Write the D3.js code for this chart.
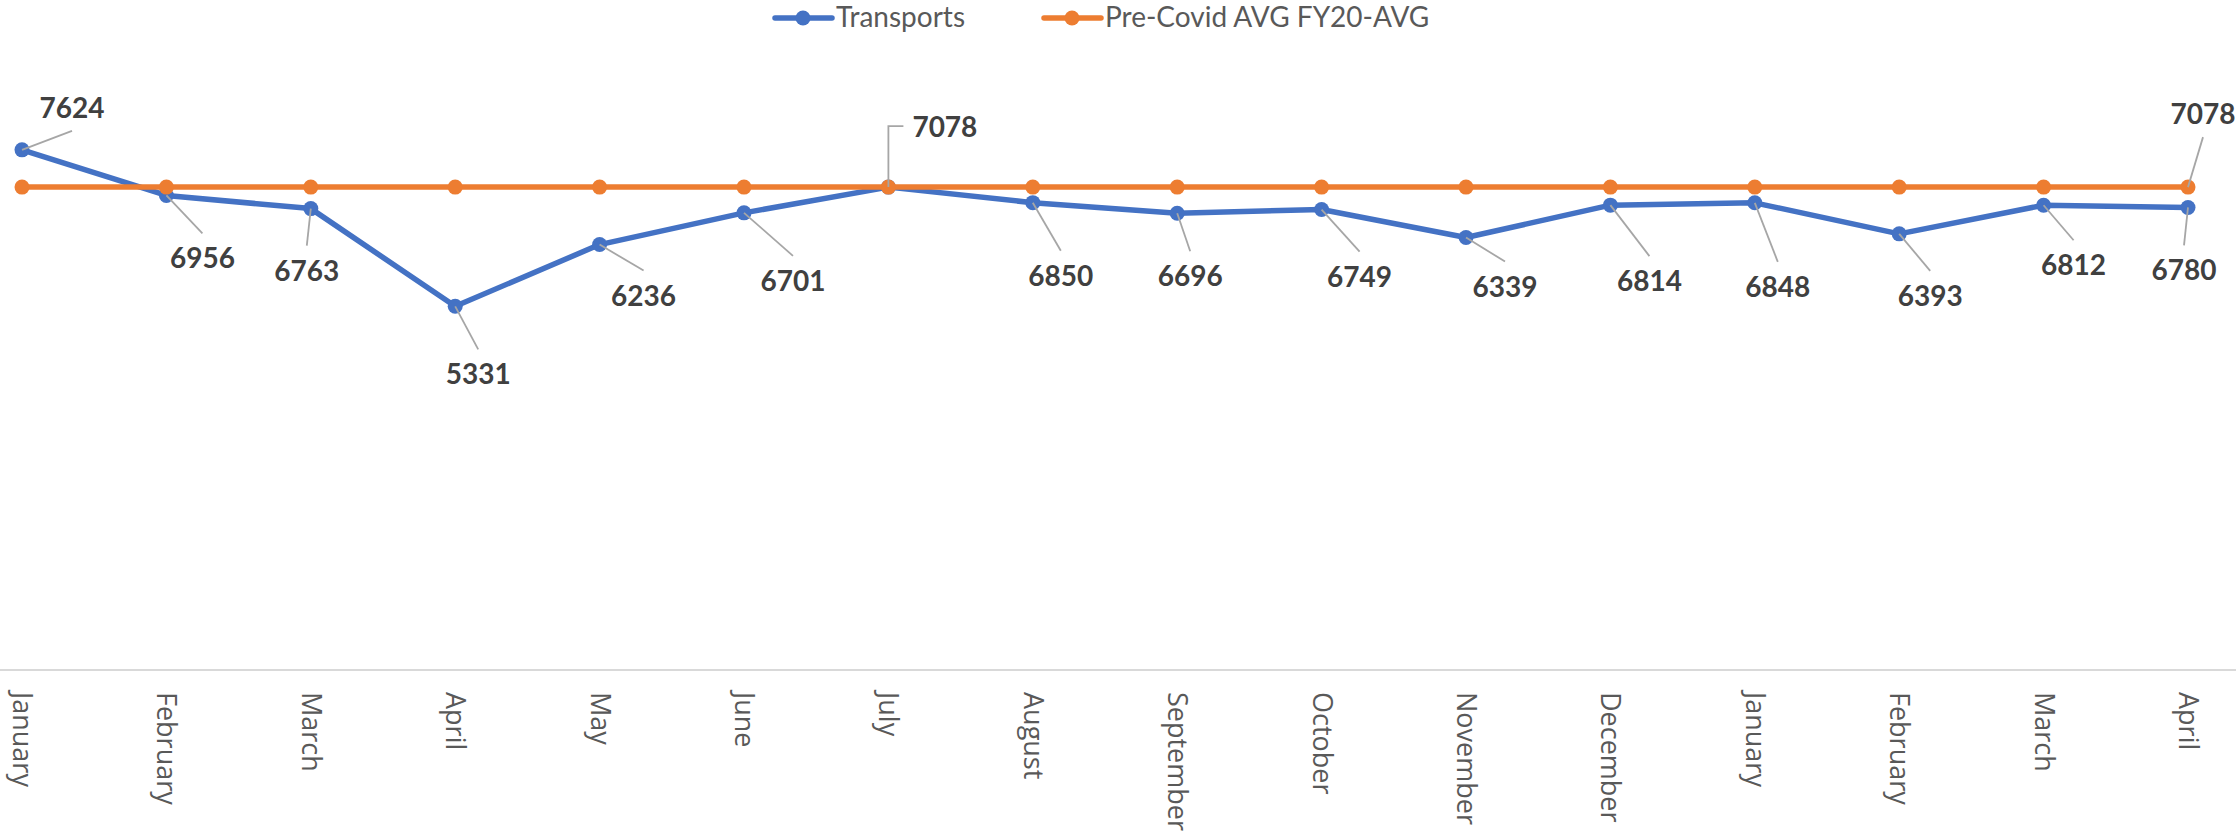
<!DOCTYPE html>
<html>
<head>
<meta charset="utf-8">
<script src="https://cdn.jsdelivr.net/npm/d3@7"></script>
<style>
  body { margin: 0; background: #fff; }
  svg { display: block; }
</style>
</head>
<body>
<script>
"use strict";

// chart data
var months = ["January", "February", "March", "April", "May", "June", "July", "August",
              "September", "October", "November", "December", "January", "February", "March", "April"];
var transports = [7624, 6956, 6763, 5331, 6236, 6701, 7078, 6850, 6696, 6749, 6339, 6814, 6848, 6393, 6812, 6780];
var preCovidAvg = [7078, 7078, 7078, 7078, 7078, 7078, 7078, 7078, 7078, 7078, 7078, 7078, 7078, 7078, 7078, 7078];
var seriesNames = ["Transports", "Pre-Covid AVG FY20-AVG"];

// where Excel left each data label, relative to its point (label centre x, baseline y)
var transportLabelPos = [
  [50, -32], [36, 73], [-4, 72], [23, 78], [44, 61], [49, 78], [24, -50, "elbow"], [28, 83],
  [13, 73], [38, 77], [39, 59], [39, 86], [23, 94], [31, 72], [30, 70], [-4, 73]
];
var avgLabelPos = [[15, -63]]; // only the last point of the average is labelled

var W = 2236, H = 836;
var blue = "#4472C4", orange = "#ED7D31";

var svg = d3.select("body").append("svg")
    .attr("width", W)
    .attr("height", H);

var x = d3.scalePoint()
    .domain(d3.range(months.length))
    .range([22, 2188]);

var y = d3.scaleLinear()
    .domain([0, 9000])
    .range([670, 56]);

// category axis
var axisY = y(0);
var xAxis = d3.axisBottom(x)
    .tickSize(0)
    .tickFormat(function(i) { return months[i]; });

var gx = svg.append("g")
    .attr("transform", "translate(0," + axisY + ")")
    .call(xAxis);
gx.select(".domain").remove();
gx.selectAll(".tick text")
    .attr("transform", "translate(0,22) rotate(90)")
    .attr("x", 0)
    .attr("y", 0)
    .attr("dy", "0.35em")
    .style("text-anchor", "start")
    .style("font-family", "'Open Sans', sans-serif")
    .style("font-size", "27px")
    .style("fill", "#595959");

svg.append("line")
    .attr("x1", 0).attr("x2", W)
    .attr("y1", axisY).attr("y2", axisY)
    .attr("stroke", "#d9d9d9")
    .attr("stroke-width", 2);

function drawSeries(values, color) {
  var line = d3.line()
      .x(function(d, i) { return x(i); })
      .y(function(d) { return y(d); });
  svg.append("path")
      .datum(values)
      .attr("d", line)
      .attr("fill", "none")
      .attr("stroke", color)
      .attr("stroke-width", 5.5)
      .attr("stroke-linejoin", "round");
  svg.append("g").selectAll("circle")
      .data(values)
      .enter().append("circle")
      .attr("cx", function(d, i) { return x(i); })
      .attr("cy", function(d) { return y(d); })
      .attr("r", 7.5)
      .attr("fill", color);
}

drawSeries(transports, blue);
drawSeries(preCovidAvg, orange);

// data labels with leader lines
function addLabels(values, positions, firstIndex) {
  var g = svg.append("g");
  positions.forEach(function(p, k) {
    var i = firstIndex + k;
    var px = x(i), py = y(values[i]);
    var lx = px + p[0], base = py + p[1];
    var leader;
    if (p[2] === "elbow") {
      leader = "M" + px + "," + py + "V" + (base - 11) + "H" + (lx - 9);
    } else if (p[1] < 0) {
      leader = "M" + px + "," + py + "L" + lx + "," + (base + 13);
    } else {
      leader = "M" + px + "," + py + "L" + lx + "," + (base - 35);
    }
    g.append("path")
        .attr("d", leader)
        .attr("fill", "none")
        .attr("stroke", "#a6a6a6")
        .attr("stroke-width", 1.8);
    g.append("text")
        .attr("x", lx)
        .attr("y", base)
        .style("text-anchor", p[2] === "elbow" ? "start" : "middle")
        .style("font-family", "Lato, sans-serif")
        .style("font-weight", "bold")
        .style("font-size", "28px")
        .style("fill", "#404040")
        .text(values[i]);
  });
}

addLabels(transports, transportLabelPos, 0);
addLabels(preCovidAvg, avgLabelPos, preCovidAvg.length - 1);

// legend
var legendItems = [
  { name: seriesNames[0], color: blue, x: 775 },
  { name: seriesNames[1], color: orange, x: 1044 }
];
var legend = svg.append("g").attr("class", "legend");
legendItems.forEach(function(d) {
  legend.append("line")
      .attr("x1", d.x).attr("x2", d.x + 57)
      .attr("y1", 18).attr("y2", 18)
      .attr("stroke", d.color)
      .attr("stroke-width", 5.5)
      .attr("stroke-linecap", "round");
  legend.append("circle")
      .attr("cx", d.x + 28).attr("cy", 18)
      .attr("r", 7.5)
      .attr("fill", d.color);
  legend.append("text")
      .attr("x", d.x + 61)
      .attr("y", 27)
      .style("font-family", "Lato, sans-serif")
      .style("font-size", "28px")
      .style("fill", "#595959")
      .text(d.name);
});
</script>
</body>
</html>
